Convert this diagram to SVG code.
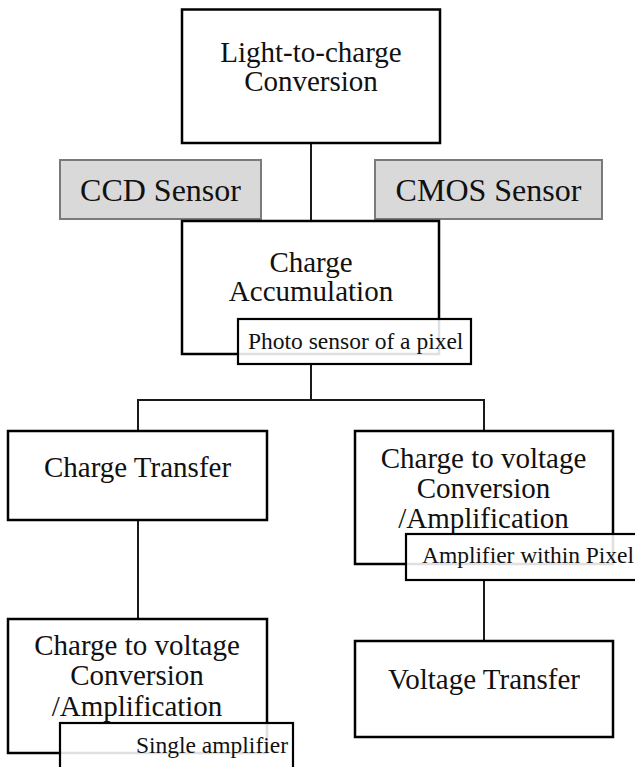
<svg xmlns="http://www.w3.org/2000/svg" width="635" height="767" viewBox="0 0 635 767">
<style>
.box{fill:#ffffff;stroke:#000000;stroke-width:2.5}
.sensor{fill:#d9d9d9;stroke:#7a7a7a;stroke-width:2}
.tag{fill:#ffffff;fill-opacity:0.88;stroke:#000000;stroke-width:2.2}
.ln{fill:none;stroke:#1a1a1a;stroke-width:2}
text{font-family:"Liberation Serif","Times New Roman",serif;fill:#111111}
.t29{font-size:29px;text-anchor:middle}
.t32{font-size:32px;text-anchor:middle}
.t23{font-size:23.5px}
</style>
<rect width="635" height="767" fill="#ffffff"/>
<g id="connectors">
<line class="ln" x1="311" y1="143" x2="311" y2="221"/>
<line class="ln" x1="311" y1="364" x2="311" y2="400"/>
<polyline class="ln" points="138,431 138,400 484,400 484,431"/>
<line class="ln" x1="138" y1="520" x2="138" y2="619"/>
<line class="ln" x1="484" y1="580" x2="484" y2="641"/>
</g>
<g id="n-light">
<rect class="box" x="182" y="9.5" width="258" height="133.5"/>
<text class="t29" x="311" y="62">Light-to-charge</text>
<text class="t29" x="311" y="91">Conversion</text>
</g>
<g id="n-ccd">
<rect class="sensor" x="60" y="160" width="201" height="59"/>
<text class="t32" x="160.5" y="201">CCD Sensor</text>
</g>
<g id="n-cmos">
<rect class="sensor" x="375" y="160" width="227" height="59"/>
<text class="t32" x="488.5" y="201">CMOS Sensor</text>
</g>
<g id="n-accum">
<rect class="box" x="182" y="221" width="257" height="133"/>
<text class="t29" x="311" y="272">Charge</text>
<text class="t29" x="311" y="301">Accumulation</text>
</g>
<g id="n-photo">
<rect class="tag" x="238" y="319" width="233" height="45"/>
<text class="t23" x="248" y="349">Photo sensor of a pixel</text>
</g>
<g id="n-transfer">
<rect class="box" x="8" y="431" width="259" height="89"/>
<text class="t29" x="137.5" y="477">Charge Transfer</text>
</g>
<g id="n-c2v-right">
<rect class="box" x="355" y="431" width="258" height="133"/>
<text class="t29" x="483.5" y="468">Charge to voltage</text>
<text class="t29" x="483.5" y="498">Conversion</text>
<text class="t29" x="483.5" y="528">/Amplification</text>
</g>
<g id="n-amp-pixel">
<rect class="tag" x="406" y="534" width="240" height="46"/>
<text class="t23" x="422" y="563" textLength="212" lengthAdjust="spacing">Amplifier  within  Pixel</text>
</g>
<g id="n-voltage">
<rect class="box" x="355" y="641" width="258" height="96"/>
<text class="t29" x="484" y="689">Voltage Transfer</text>
</g>
<g id="n-c2v-left">
<rect class="box" x="8" y="619" width="259" height="134"/>
<text class="t29" x="137" y="655">Charge to voltage</text>
<text class="t29" x="137" y="685">Conversion</text>
<text class="t29" x="137" y="716">/Amplification</text>
</g>
<g id="n-single">
<rect class="tag" x="60" y="723" width="233" height="50"/>
<text class="t23" x="288" y="753" text-anchor="end">Single  amplifier</text>
</g>
</svg>
